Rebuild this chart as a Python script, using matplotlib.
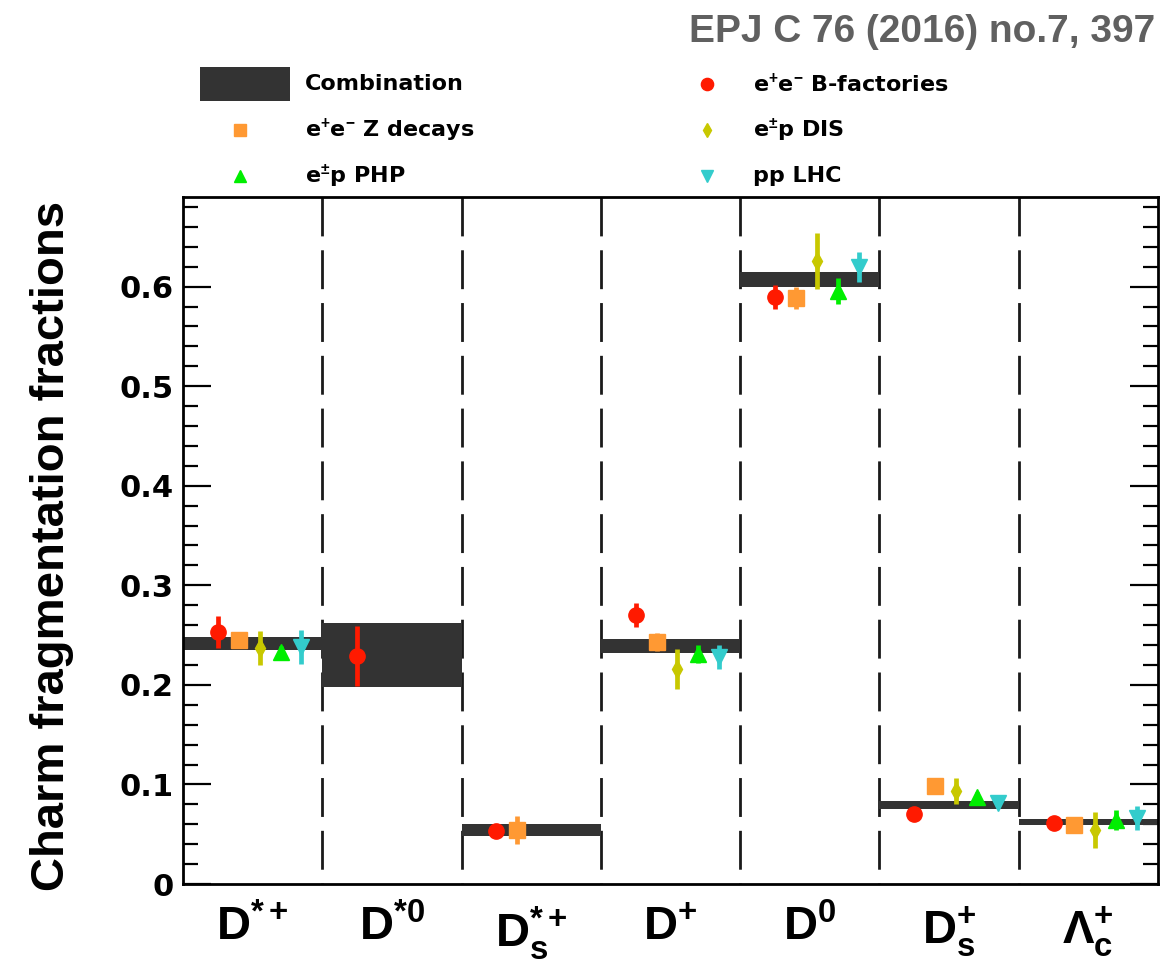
import numpy as np
import matplotlib
matplotlib.use("Agg")
import matplotlib.pyplot as plt
from matplotlib.patches import Rectangle
from matplotlib.ticker import MultipleLocator, FuncFormatter

plt.rcParams["mathtext.fontset"] = "custom"
plt.rcParams["mathtext.rm"] = "Liberation Sans"
plt.rcParams["mathtext.bf"] = "Liberation Sans:bold"
plt.rcParams["mathtext.it"] = "Liberation Sans:italic"

# ---- data ----
hadrons = [r"$\mathbf{D^{*+}}$", r"$\mathbf{D^{*0}}$", r"$\mathbf{D_s^{*+}}$",
           r"$\mathbf{D^{+}}$", r"$\mathbf{D^{0}}$", r"$\mathbf{D_s^{+}}$",
           r"$\mathbf{\Lambda_c^{+}}$"]

# combined fractions (band centre, half width)
comb_val = [0.2415, 0.230, 0.054, 0.239, 0.6075, 0.0794, 0.062]
comb_err = [0.0065, 0.032, 0.006, 0.007, 0.0075, 0.004, 0.003]

nan = np.nan
bfac_val = [0.253, 0.229, 0.0533, 0.270, 0.590, 0.070, 0.061]
bfac_err = [0.016, 0.030, 0.004, 0.012, 0.012, 0.004, 0.004]
zdec_val = [0.245, nan, 0.054, 0.243, 0.589, 0.0985, 0.059]
zdec_err = [0.007, nan, 0.014, 0.009, 0.011, 0.005, 0.005]
dis_val = [0.237, nan, nan, 0.216, 0.626, 0.0935, 0.054]
dis_err = [0.017, nan, nan, 0.020, 0.028, 0.013, 0.018]
php_val = [0.233, nan, nan, 0.231, 0.596, 0.0874, 0.064]
php_err = [0.006, nan, nan, 0.009, 0.013, 0.005, 0.010]
lhc_val = [0.238, nan, nan, 0.228, 0.620, 0.0814, 0.066]
lhc_err = [0.017, nan, nan, 0.012, 0.015, 0.004, 0.012]

series = [
    # label, values, errors, marker, size, colour, offset in bin
    (r"e$^{\mathbf{+}}$e$^{\mathbf{-}}$ B-factories", bfac_val, bfac_err, "o", 11, "#ff1a00", 0.25),
    (r"e$^{\mathbf{+}}$e$^{\mathbf{-}}$ Z decays", zdec_val, zdec_err, "s", 11, "#ff9933", 0.40),
    (r"e$^{\mathbf{\pm}}$p DIS", dis_val, dis_err, "d", 9, "#c8c800", 0.55),
    (r"e$^{\mathbf{\pm}}$p PHP", php_val, php_err, "^", 11, "#00ee00", 0.70),
    ("pp LHC", lhc_val, lhc_err, "v", 11, "#33cccc", 0.85),
]
band_color = "#333333"

# ---- figure ----
W, H = 1165, 964
fig = plt.figure(figsize=(W / 100, H / 100), dpi=100)
ax = fig.add_axes([183 / W, 1 - 884 / H, (1158 - 183) / W, (884 - 197) / H])

ymax = 0.69
n = len(hadrons)
ax.set_xlim(0, n)
ax.set_ylim(0, ymax)

# dashed separators between hadron bins (dash pattern starts at the top)
for i in range(1, n):
    ax.plot([i, i], [ymax, 0], color="#1a1a1a", lw=2.0,
            linestyle=(0, (14, 5)), zorder=1)

# combination bands
xc = np.arange(n) + 0.5
ax.bar(xc, 2 * np.array(comb_err), bottom=np.array(comb_val) - np.array(comb_err),
       width=1.0, color=band_color, zorder=2, linewidth=0)

# measurements
for label, vals, errs, mk, ms, col, off in series:
    ax.errorbar(np.arange(n) + off, vals, yerr=errs, fmt=mk, ms=ms, color=col,
                mec=col, elinewidth=3.4, capsize=0, zorder=3)

# axes styling
for s in ax.spines.values():
    s.set_linewidth(2.0)
ax.yaxis.set_major_locator(MultipleLocator(0.1))
ax.yaxis.set_minor_locator(MultipleLocator(0.02))
ax.yaxis.set_major_formatter(FuncFormatter(lambda v, p: "0" if abs(v) < 1e-9 else "%.1f" % v))
ax.tick_params(axis="y", which="both", direction="in", left=True, right=True,
               width=1.6, labelsize=22, pad=7)
ax.tick_params(axis="y", which="major", length=20)
ax.tick_params(axis="y", which="minor", length=11)
for t in ax.get_yticklabels():
    t.set_fontweight("bold")
    t.set_family("DejaVu Sans")

ax.set_xticks(xc)
ax.set_xticklabels(hadrons)
ax.tick_params(axis="x", length=0, labelsize=34, pad=15)

fig.text(52 / W, 1 - 546 / H, "Charm fragmentation fractions", rotation=90,
         ha="center", va="center", fontsize=34, fontweight="bold",
         family="Liberation Sans")

fig.text(1155 / W, 1 - 32 / H, "EPJ C 76 (2016) no.7, 397", ha="right", va="center",
         fontsize=28, fontweight="bold", color="#606060", family="Liberation Sans")

# ---- legend (two columns above the frame) ----
lax = fig.add_axes([0, 0, 1, 1])
lax.set_xlim(0, W)
lax.set_ylim(H, 0)
lax.axis("off")

lax.add_patch(Rectangle((200, 67), 90, 34, color=band_color, lw=0))
lax.text(305, 84, "Combination", va="center", ha="left", fontsize=16,
         fontweight="bold", family="DejaVu Sans")

legend_slots = {0: (707, 84), 1: (240, 130), 2: (707, 130), 3: (240, 176), 4: (707, 176)}
for k, (label, vals, errs, mk, ms, col, off) in enumerate(series):
    mx, my = legend_slots[k]
    lax.plot(mx, my, marker=mk, ms=ms * 0.8, color=col, mec=col, ls="none")
    lax.text(mx + 46 if mx > 500 else 305, my, label, va="center", ha="left",
             fontsize=16, fontweight="bold", family="DejaVu Sans")

fig.savefig("out.png", dpi=100)
